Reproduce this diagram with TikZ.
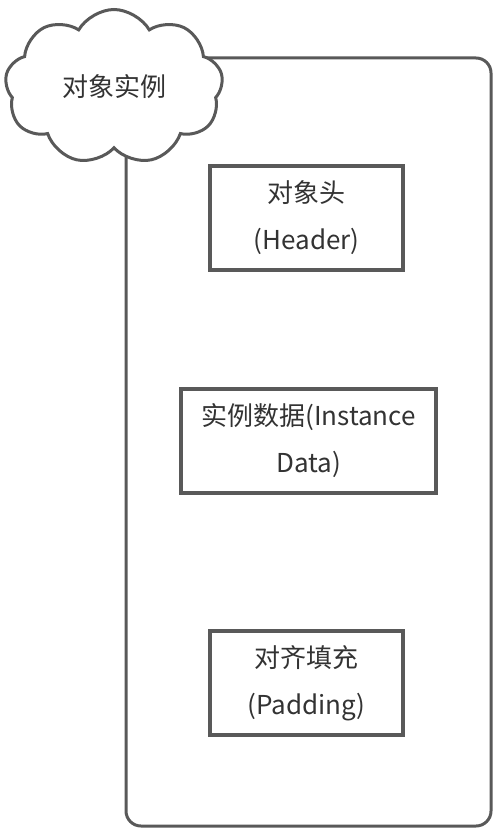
\documentclass[tikz,border=0pt]{standalone}
\usepackage{fontspec}
\setmainfont{Noto Sans CJK SC}
\usetikzlibrary{shapes.symbols}
\definecolor{linegray}{RGB}{89, 89, 89}
\definecolor{textgray}{RGB}{51, 51, 51}

\tikzset{
    part/.style={draw=linegray, line width=3.5pt, fill=white, align=center, text=textgray, font=\fontsize{26}{47}\selectfont},
}

\begin{document}
\begin{tikzpicture}[x=1pt, y=-1pt]
    \useasboundingbox (0,0) rectangle (498,834);
    \node[draw=linegray, line width=3pt, rounded corners=15pt, minimum width=365pt, minimum height=768pt] (obj) at (308.5,442) {};
    \node[cloud, cloud puffs=9, cloud puff arc=120, aspect=1.4, draw=linegray, line width=3pt, fill=white, minimum width=218pt, minimum height=155pt, inner sep=0pt, text=textgray, font=\fontsize{26}{30}\selectfont] (inst) at (114,87) {对象实例};
    \node[part, minimum width=193pt, minimum height=104pt] (header) at (306.5,218) {对象头\\(Header)};
    \node[part, minimum width=255pt, minimum height=104pt] (data) at (308.5,441) {实例数据(Instance\\Data)};
    \node[part, minimum width=193pt, minimum height=104pt] (pad) at (306.5,683) {对齐填充\\(Padding)};
\end{tikzpicture}
\end{document}
